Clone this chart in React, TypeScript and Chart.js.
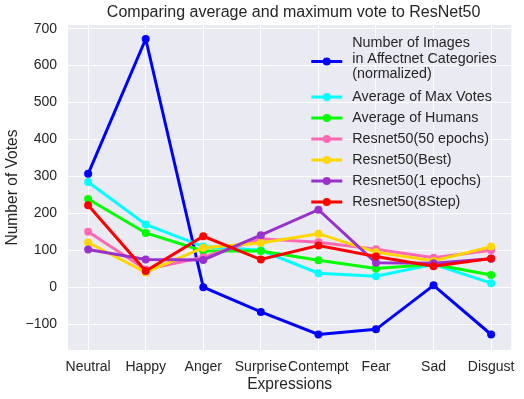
import React, { useEffect, useRef } from "react";
import { Chart, registerables } from "chart.js";

Chart.register(...registerables);

const categories = ["Neutral", "Happy", "Anger", "Surprise", "Contempt", "Fear", "Sad", "Disgust"];
const affectnet = [307, 672, 0, -67, -128, -114, 5, -128];
const maxVotes = [285, 170, 110, 100, 38, 30, 62, 11];
const humans = [239, 147, 98, 98, 73, 51, 62, 33];
const resnet50ep = [150, 48, 81, 131, 122, 103, 80, 100];
const resnetBest = [121, 40, 107, 120, 145, 95, 71, 110];
const resnet1ep = [102, 75, 74, 141, 210, 66, 65, 77];
const resnet8step = [222, 44, 138, 75, 113, 83, 57, 78];
const yTicks = [-100, 0, 100, 200, 300, 400, 500, 600, 700];

const seriesLabels = [
  ["Number of Images", "in Affectnet Categories", "(normalized)"],
  ["Average of Max Votes"],
  ["Average of Humans"],
  ["Resnet50(50 epochs)"],
  ["Resnet50(Best)"],
  ["Resnet50(1 epochs)"],
  ["Resnet50(8Step)"],
];
const seriesColors = ["#0000FF", "#00FFFF", "#00FF00", "#FF69B4", "#FFD700", "#9932CC", "#FF0000"];
const seriesData = [affectnet, maxVotes, humans, resnet50ep, resnetBest, resnet1ep, resnet8step];

const FONT = "'Liberation Sans', Arial, sans-serif";
const TEXT = "#262626";

const overlayPlugin = {
  id: "overlay",
  afterDraw(chart: any) {
    const ctx = chart.ctx;
    const ca = chart.chartArea;
    ctx.save();
    // title
    ctx.fillStyle = TEXT;
    ctx.font = `16px ${FONT}`;
    ctx.textAlign = "center";
    ctx.textBaseline = "middle";
    ctx.fillText("Comparing average and maximum vote to ResNet50", (ca.left + ca.right) / 2 + 4, 13);
    // legend
    const hx0 = ca.right - 200;
    const hx1 = ca.right - 169;
    const tx = ca.right - 159;
    let y = ca.top + 18.5;
    ctx.font = `14.3px ${FONT}`;
    ctx.textAlign = "left";
    seriesLabels.forEach((lines, i) => {
      const lineH = 15.5;
      const blockH = lines.length * lineH;
      const multi = lines.length > 1;
      const cy = y + blockH / 2 - lineH / 2 + (multi ? 2.5 : 0);
      ctx.strokeStyle = seriesColors[i];
      ctx.lineWidth = 3;
      ctx.beginPath();
      ctx.moveTo(hx0, cy);
      ctx.lineTo(hx1, cy);
      ctx.stroke();
      ctx.fillStyle = seriesColors[i];
      ctx.beginPath();
      ctx.arc((hx0 + hx1) / 2, cy, 4, 0, Math.PI * 2);
      ctx.fill();
      ctx.fillStyle = TEXT;
      lines.forEach((t, k) => {
        ctx.fillText(t, tx, y + k * lineH);
      });
      y += blockH + 5.5 + (multi ? 1.5 : 0);
    });
    ctx.restore();
  },
};

const bgPlugin = {
  id: "bgArea",
  beforeDraw(chart: any) {
    const ctx = chart.ctx;
    const ca = chart.chartArea;
    ctx.save();
    ctx.fillStyle = "#FFFFFF";
    ctx.fillRect(0, 0, chart.width, chart.height);
    ctx.fillStyle = "#EAEAF2";
    ctx.fillRect(ca.left, ca.top, ca.right - ca.left, ca.bottom - ca.top);
    ctx.restore();
  },
};

export default function App() {
  const ref = useRef<HTMLCanvasElement>(null);
  useEffect(() => {
    const n = seriesData.length;
    const chart = new Chart(ref.current!, {
      type: "line",
      data: {
        datasets: seriesData.map((arr, i) => ({
          label: seriesLabels[i].join(" "),
          data: arr.map((v, j) => ({ x: j, y: v })),
          borderColor: seriesColors[i],
          backgroundColor: seriesColors[i],
          borderWidth: 3,
          pointRadius: 4,
          pointBorderWidth: 0,
          pointBackgroundColor: seriesColors[i],
          tension: 0,
          order: n - 1 - i,
        })),
      },
      options: {
        animation: false,
        responsive: false,
        layout: { padding: { top: 25, right: 12, left: 0, bottom: 0 } },
        plugins: {
          legend: { display: false },
          title: { display: false },
          tooltip: { enabled: false },
        },
        scales: {
          x: {
            type: "linear",
            min: -0.35,
            max: categories.length - 1 + 0.35,
            afterBuildTicks: (scale: any) => {
              scale.ticks = categories.map((_, i) => ({ value: i }));
            },
            afterFit: (scale: any) => {
              scale.height = 49;
            },
            grid: { color: "#FFFFFF", lineWidth: 1, drawTicks: false },
            border: { display: false },
            ticks: {
              padding: 9,
              color: TEXT,
              font: { family: FONT, size: 14 },
              maxRotation: 0,
              autoSkip: false,
              callback: (v: any) => categories[Math.round(v)],
            },
            title: {
              display: true,
              text: "Expressions",
              color: TEXT,
              font: { family: FONT, size: 15.6 },
              padding: { top: 0, bottom: 5 },
            },
          },
          y: {
            min: -170,
            max: 710,
            afterBuildTicks: (scale: any) => {
              scale.ticks = yTicks.map((v) => ({ value: v }));
            },
            afterFit: (scale: any) => {
              scale.width = 68;
            },
            grid: { color: "#FFFFFF", lineWidth: 1, drawTicks: false },
            border: { display: false },
            ticks: {
              padding: 11,
              color: TEXT,
              font: { family: FONT, size: 14 },
              callback: (v: any) => String(v).replace("-", "\u2212"),
            },
            title: {
              display: true,
              text: "Number of Votes",
              color: TEXT,
              font: { family: FONT, size: 15.6 },
              padding: { top: 3, bottom: 3 },
            },
          },
        },
      },
      plugins: [bgPlugin, overlayPlugin],
    } as any);
    return () => chart.destroy();
  }, []);
  return (
    <div style={{ position: "fixed", left: 0, top: 0, width: 524, height: 399, background: "#fff" }}>
      <canvas ref={ref} width={524} height={399} style={{ width: 524, height: 399 }} />
    </div>
  );
}
